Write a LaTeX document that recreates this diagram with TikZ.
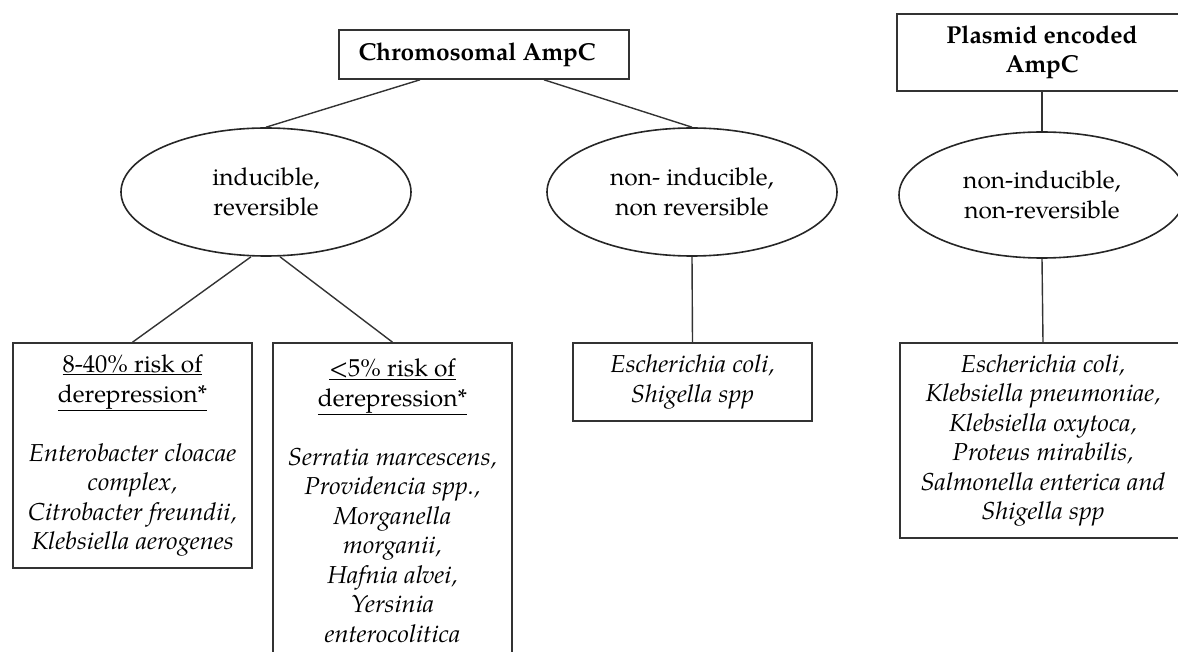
\documentclass[tikz,border=0pt]{standalone}
\usepackage{fontspec}
\setmainfont{TeX Gyre Pagella}[ItalicFeatures={FakeStretch=1.04}]
\usetikzlibrary{shapes.geometric}
\begin{document}
\begin{tikzpicture}[x=1pt,y=-1pt,
  every node/.style={font=\fontsize{24.5}{29.5}\selectfont, text=black},
  conn/.style={draw=black!80, line width=1.4pt},
  boxnode/.style={draw=black!80, line width=1.6pt, rectangle, inner sep=0pt, align=center},
  ovalnode/.style={draw=black!85, line width=1.6pt, ellipse, inner sep=0pt, minimum width=290pt, minimum height=128pt, align=center},
  titlefont/.style={font=\fontsize{24.5}{29.5}\selectfont\bfseries}]
\useasboundingbox (0,0) rectangle (1178,652);
\clip (0,0) rectangle (1178,652);
% top boxes
\node[boxnode, titlefont, minimum width=290pt, minimum height=49pt] (chrom) at (484,54.5) {Chromosomal AmpC\hspace*{14pt}};
\node[boxnode, titlefont, minimum width=290pt, minimum height=77pt] (plasmid) at (1042,52.5) {Plasmid encoded\\AmpC};
% ellipses
\node[ovalnode] (ell1) at (266,192) {inducible,\\reversible};
\node[ovalnode] (ell2) at (692,192) {non- inducible,\\non reversible};
\node[ovalnode, minimum width=286pt, minimum height=126pt] (ell3) at (1042,195) {non-inducible,\\non-reversible};
% bottom boxes
\node[boxnode, minimum width=239pt, minimum height=225pt] (box1) at (132.5,455.5)
  {\underline{8-40\% risk of}\\ \underline{derepression*}\\[29.5pt]
   \textit{Enterobacter cloacae}\\ \textit{complex,}\\ \textit{Citrobacter freundii,}\\ \textit{Klebsiella aerogenes}};
\node[boxnode, minimum width=239pt, minimum height=315pt] (box2) at (392.5,500.5)
  {\underline{\textless5\% risk of}\\ \underline{derepression*}\\[29.5pt]
   \textit{Serratia marcescens,}\\ \textit{Providencia spp.,}\\ \textit{Morganella}\\ \textit{morganii,}\\ \textit{Hafnia alvei,}\\ \textit{Yersinia}\\ \textit{enterocolitica}};
\node[boxnode, minimum width=239pt, minimum height=78pt] (box3) at (692.5,382)
  {\textit{Escherichia coli,}\\ \textit{Shigella spp}};
\node[boxnode, minimum width=286pt, minimum height=195pt] (box4) at (1043,440.5)
  {\textit{Escherichia coli,}\\ \textit{Klebsiella pneumoniae,}\\ \textit{Klebsiella oxytoca,}\\ \textit{Proteus mirabilis,}\\ \textit{Salmonella enterica and}\\ \textit{Shigella spp}};
% connectors
\draw[conn] ([xshift=-64pt]chrom.south) -- (ell1.north);
\draw[conn] ([xshift=60pt]chrom.south) -- (ell2.north);
\draw[conn] ([xshift=-15pt]ell1.south) -- (box1.north);
\draw[conn] ([xshift=14pt]ell1.south) -- (box2.north);
\draw[conn] (ell2.south) -- (box3.north);
\draw[conn] (plasmid.south) -- (ell3.north);
\draw[conn] (ell3.south) -- (box4.north);
\end{tikzpicture}
\end{document}
